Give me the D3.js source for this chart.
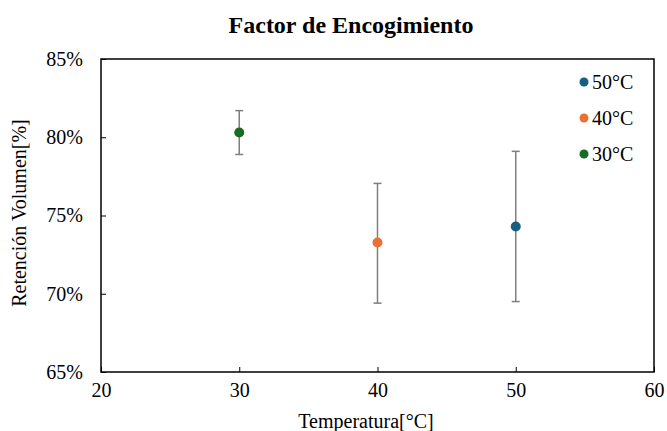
<!DOCTYPE html>
<html lang="es">
<head>
<meta charset="utf-8">
<title>Factor de Encogimiento</title>
<style>
body { margin:0; background:#fff; }
svg text { font-family:"Liberation Serif","Tinos","Times New Roman","DejaVu Serif",serif; fill:#000; }
</style>
<script src="https://cdnjs.cloudflare.com/ajax/libs/d3/7.8.5/d3.min.js"></script>
</head>
<body>
<script>
// series, drawn in legend order
var series = ["50°C", "40°C", "30°C"];
var temps = [50, 40, 30];
var means = [0.743, 0.7327, 0.803];
var errLow = [0.695, 0.694, 0.789];
var errHigh = [0.791, 0.7705, 0.817];
var colors = ["#156082", "#E97132", "#196B24"];

var xTicks = [20, 30, 40, 50, 60];
var yTicks = [0.65, 0.70, 0.75, 0.80, 0.85];

var serif = '"Liberation Serif","Tinos","Times New Roman","DejaVu Serif",serif';

var width = 667, height = 431;
var margin = {top: 59, right: 13, bottom: 59, left: 101};

var svg = d3.select("body").append("svg")
	.attr("width", width)
	.attr("height", height);

var x = d3.scaleLinear().domain([20, 60]).range([margin.left, width - margin.right]);
var y = d3.scaleLinear().domain([0.65, 0.85]).range([height - margin.bottom, margin.top]);

// frame
svg.append("rect")
	.attr("x", margin.left)
	.attr("y", margin.top)
	.attr("width", width - margin.left - margin.right)
	.attr("height", height - margin.top - margin.bottom)
	.style("fill", "none")
	.style("stroke", "#000")
	.style("stroke-width", "1.5px");

// x axis, ticks pointing inward
var xAxis = svg.append("g")
	.attr("transform", "translate(0," + (height - margin.bottom) + ")")
	.call(d3.axisBottom(x).tickValues(xTicks).tickSizeInner(-5).tickSizeOuter(0).tickPadding(11).tickFormat(d3.format("d")));
xAxis.select(".domain").remove();
xAxis.selectAll("line").style("stroke", "#000").style("stroke-width", "1px");
xAxis.selectAll("text").style("font-family", serif).style("font-size", "20px");

// y axis
var yAxis = svg.append("g")
	.attr("transform", "translate(" + margin.left + ",0)")
	.call(d3.axisLeft(y).tickValues(yTicks).tickSizeInner(-5).tickSizeOuter(0).tickPadding(18).tickFormat(d3.format(".0%")));
yAxis.select(".domain").remove();
yAxis.selectAll("line").style("stroke", "#000").style("stroke-width", "1px");
yAxis.selectAll("text").style("font-family", serif).style("font-size", "20px");

// error bars
var eb = svg.append("g").selectAll("g")
	.data(series)
	.enter()
	.append("g");
eb.append("line")
	.attr("x1", function(d, i) { return x(temps[i]); })
	.attr("x2", function(d, i) { return x(temps[i]); })
	.attr("y1", function(d, i) { return y(errLow[i]); })
	.attr("y2", function(d, i) { return y(errHigh[i]); })
	.style("stroke", "#7f7f7f")
	.style("stroke-width", "1.5px");
eb.selectAll(".cap")
	.data(function(d, i) { return [errLow[i], errHigh[i]].map(function(v) { return {t: temps[i], v: v}; }); })
	.enter()
	.append("line")
		.attr("class", "cap")
		.attr("x1", function(d) { return x(d.t) - 4; })
		.attr("x2", function(d) { return x(d.t) + 4; })
		.attr("y1", function(d) { return y(d.v); })
		.attr("y2", function(d) { return y(d.v); })
		.style("stroke", "#7f7f7f")
		.style("stroke-width", "1.5px");

// points
svg.append("g").selectAll("circle")
	.data(series)
	.enter()
	.append("circle")
		.attr("cx", function(d, i) { return x(temps[i]); })
		.attr("cy", function(d, i) { return y(means[i]); })
		.attr("r", 5)
		.style("fill", function(d, i) { return colors[i]; });

// legend
var lg = svg.append("g").selectAll("g")
	.data(series)
	.enter()
	.append("g")
		.attr("transform", function(d, i) { return "translate(584," + (82 + i * 36) + ")"; });
lg.append("circle")
	.attr("r", 4.5)
	.style("fill", function(d, i) { return colors[i]; });
lg.append("text")
	.attr("x", 8)
	.attr("dy", "0.35em")
	.style("font-size", "20px")
	.text(function(d) { return d; });

// titles
svg.append("text")
	.attr("x", 351)
	.attr("y", 33)
	.attr("text-anchor", "middle")
	.style("font-size", "24px")
	.style("font-weight", "bold")
	.text("Factor de Encogimiento");

svg.append("text")
	.attr("x", 366)
	.attr("y", 428)
	.attr("text-anchor", "middle")
	.style("font-size", "20px")
	.text("Temperatura[°C]");

svg.append("text")
	.attr("transform", "translate(26,213) rotate(-90)")
	.attr("text-anchor", "middle")
	.style("font-size", "20px")
	.text("Retención Volumen[%]");
</script>
</body>
</html>
